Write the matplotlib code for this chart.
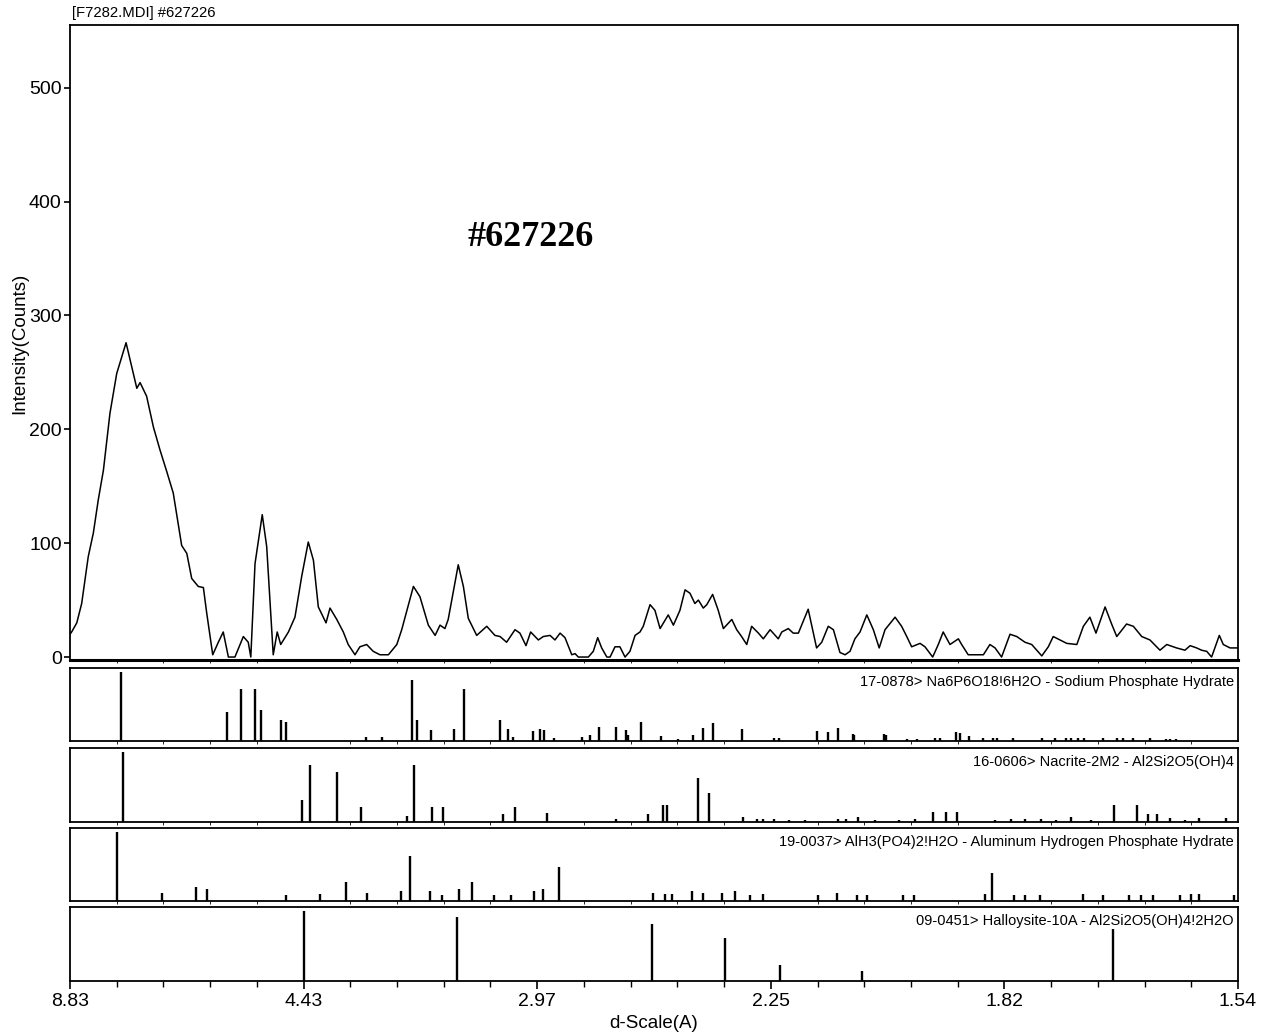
import matplotlib
matplotlib.use('Agg')
import matplotlib.pyplot as plt
from matplotlib.ticker import MultipleLocator

plt.rcParams['font.family'] = ['Liberation Sans', 'DejaVu Sans']

# gemessenes Diffraktogramm (2-Theta in Grad, Cu K-alpha) und Intensitaet
two_theta = [10.00, 10.07, 10.29, 10.50, 10.78, 11.00, 11.21, 11.43, 11.71, 12.00,
             12.40, 12.64, 12.86, 13.00, 13.28, 13.57, 13.85, 14.14, 14.42, 14.78,
             15.00, 15.21, 15.49, 15.71, 15.85, 16.11, 16.35, 16.56, 16.78, 17.06,
             17.42, 17.63, 17.74, 17.92, 18.23, 18.42, 18.70, 18.87, 19.02, 19.35,
             19.63, 19.92, 20.20, 20.42, 20.63, 20.96, 21.13, 21.42, 21.70, 21.91,
             22.20, 22.41, 22.70, 22.98, 23.27, 23.63, 23.99, 24.20, 24.70, 24.98,
             25.34, 25.63, 25.84, 26.05, 26.19, 26.62, 26.84, 27.05, 27.41, 27.84,
             28.19, 28.41, 28.69, 29.05, 29.26, 29.52, 29.72, 30.05, 30.26, 30.55,
             30.76, 30.98, 31.19, 31.48, 31.62, 31.76, 32.19, 32.40, 32.59, 32.76,
             32.98, 33.12, 33.33, 33.54, 33.76, 33.97, 34.19, 34.40, 34.54, 34.83,
             35.04, 35.26, 35.61, 35.83, 36.11, 36.33, 36.54, 36.75, 36.90, 37.11,
             37.26, 37.51, 37.75, 37.97, 38.33, 38.54, 38.75, 38.97, 39.18, 39.47,
             39.68, 39.97, 40.32, 40.47, 40.75, 40.96, 41.18, 41.60, 41.96, 42.18,
             42.46, 42.68, 42.96, 43.18, 43.39, 43.60, 43.82, 44.11, 44.39, 44.64,
             44.89, 45.32, 45.60, 45.82, 46.03, 46.39, 46.60, 46.93, 47.17, 47.38,
             47.67, 48.03, 48.17, 48.45, 48.81, 49.10, 49.38, 49.60, 49.88, 50.24,
             50.53, 50.88, 51.17, 51.60, 51.88, 52.09, 52.38, 52.67, 53.10, 53.38,
             53.66, 53.92, 54.31, 54.59, 54.81, 55.23, 55.52, 55.88, 56.23, 56.66,
             56.95, 57.37, 57.73, 57.95, 58.23, 58.44, 58.66, 58.87, 59.20, 59.37,
             59.66, 59.94, 60.00]
counts = [20, 22, 30, 47, 88, 109, 138, 164, 214, 249,
          276, 255, 236, 241, 229, 202, 182, 163, 144, 98,
          91, 69, 62, 61, 39, 2, 13, 22, 0, 0,
          18, 13, 0, 82, 125, 97, 2, 22, 11, 22,
          35, 71, 101, 85, 44, 30, 43, 33, 22, 11,
          2, 9, 11, 5, 2, 2, 11, 24, 62, 53,
          28, 19, 28, 25, 33, 81, 62, 34, 19, 27,
          19, 18, 13, 24, 21, 10, 22, 15, 18, 19,
          15, 21, 17, 2, 3, 0, 0, 5, 17, 8,
          0, 0, 9, 9, 0, 5, 19, 22, 27, 46,
          41, 25, 37, 28, 41, 59, 56, 47, 50, 43,
          46, 55, 41, 25, 33, 24, 18, 11, 27, 21,
          16, 24, 16, 22, 25, 21, 21, 42, 8, 13,
          27, 24, 4, 2, 5, 16, 22, 37, 24, 8,
          24, 35, 27, 18, 9, 12, 9, 0, 11, 22,
          11, 16, 11, 2, 2, 2, 11, 8, 0, 20,
          18, 13, 11, 1, 9, 18, 15, 12, 11, 27,
          35, 21, 44, 29, 18, 29, 27, 18, 15, 6,
          11, 8, 6, 10, 8, 6, 5, 0, 19, 11,
          8, 8, 8]

# Referenzkarten (Linienlagen in 2-Theta, relative Intensitaet)
na_pos = [12.19, 16.70, 17.32, 17.91, 18.19, 19.02, 19.25, 22.68, 23.35, 24.62,
          24.87, 25.44, 26.45, 26.85, 28.40, 28.73, 28.95, 29.82, 30.10, 30.29,
          30.74, 31.90, 32.24, 32.65, 33.38, 33.81, 33.89, 34.44, 35.30, 36.03,
          36.67, 37.08, 37.53, 38.78, 40.13, 40.33, 41.97, 42.43, 42.87, 43.50,
          43.58, 44.83, 44.95, 45.83, 46.27, 47.05, 47.25, 47.92, 48.08, 48.47,
          49.08, 49.50, 49.70, 50.37, 51.63, 52.17, 52.63, 52.87, 53.17, 53.42,
          54.22, 54.83, 55.08, 55.50, 56.22, 56.92, 57.08, 57.33]
na_int = [100, 42, 76, 76, 45, 31, 27, 6, 6, 89,
          31, 16, 18, 76, 31, 18, 6, 14, 18, 16,
          4, 6, 8, 20, 21, 16, 9, 27, 7, 3,
          8, 19, 26, 17, 4, 4, 15, 13, 19, 10,
          8, 10, 8, 3, 3, 4, 4, 13, 12, 7,
          4, 4, 4, 5, 4, 4, 4, 4, 5, 5,
          4, 4, 4, 4, 4, 3, 3, 3]

nac_pos = [12.29, 19.92, 20.26, 21.41, 22.47, 24.43, 24.74, 25.51, 25.98, 28.53,
           29.07, 30.41, 33.38, 34.75, 35.40, 35.57, 36.90, 37.35, 38.79, 39.40,
           39.65, 40.12, 40.77, 41.47, 42.86, 43.24, 43.74, 44.46, 45.49, 46.16,
           46.96, 47.49, 47.99, 49.58, 50.28, 50.88, 51.58, 52.21, 52.83, 53.70,
           54.70, 55.68, 56.16, 56.55, 57.08, 57.75, 58.33, 59.50]
nac_int = [100, 32, 81, 71, 22, 9, 81, 22, 22, 11,
           22, 13, 5, 12, 24, 24, 63, 42, 7, 5,
           5, 5, 3, 3, 5, 5, 7, 3, 3, 5,
           14, 14, 14, 3, 5, 5, 5, 3, 7, 3,
           24, 24, 11, 11, 6, 3, 6, 6]

al_pos = [12.03, 13.95, 15.39, 15.88, 19.25, 20.69, 21.80, 22.71, 24.15, 24.54,
          25.39, 25.93, 26.65, 27.19, 28.14, 28.87, 29.87, 30.26, 30.93, 34.95,
          35.47, 35.75, 36.63, 37.08, 37.92, 38.45, 39.13, 39.67, 42.00, 42.83,
          43.67, 44.13, 45.67, 46.13, 49.17, 49.47, 50.42, 50.87, 51.53, 53.37,
          54.20, 55.33, 55.83, 56.37, 57.50, 57.97, 58.33, 59.83]
al_int = [100, 12, 21, 18, 8, 10, 27, 12, 14, 66,
          14, 8, 17, 27, 8, 8, 14, 18, 50, 11,
          10, 10, 14, 12, 12, 14, 8, 10, 8, 12,
          8, 8, 8, 8, 10, 41, 8, 8, 8, 10,
          8, 8, 8, 8, 8, 10, 10, 8]

hal_pos = [20.00, 26.55, 34.92, 38.05, 40.38, 43.92, 54.67]
hal_int = [100, 91, 81, 61, 23, 14, 75]

karten = [
    ('17-0878> Na6P6O18!6H2O - Sodium Phosphate Hydrate', na_pos, na_int),
    ('16-0606> Nacrite-2M2 - Al2Si2O5(OH)4', nac_pos, nac_int),
    ('19-0037> AlH3(PO4)2!H2O - Aluminum Hydrogen Phosphate Hydrate', al_pos, al_int),
    ('09-0451> Halloysite-10A - Al2Si2O5(OH)4!2H2O', hal_pos, hal_int),
]

d_labels = ['8.83', '4.43', '2.97', '2.25', '1.82', '1.54']
y_ticks = [0, 100, 200, 300, 400, 500]

fig = plt.figure(figsize=(12.7, 10.36), dpi=100)
W, H = 1270.0, 1036.0
links, breite = 70 / W, 1168 / W

# Hauptdiagramm
ax = fig.add_axes([links, (H - 660) / H, breite, 635 / H])
ax.plot(two_theta, counts, color='black', linewidth=1.1)
ax.set_xlim(10, 60)
ax.set_ylim(-2.6, 555)
ax.set_yticks(y_ticks)
ax.set_yticklabels([str(v) for v in y_ticks], fontsize=14)
ax.tick_params(axis='y', direction='out', length=4, width=1.2, pad=2)
ax.tick_params(axis='x', bottom=False, labelbottom=False)
ax.set_ylabel('Intensity(Counts)', fontsize=13.5)
ax.yaxis.set_label_coords(-0.036, 0.498)
for s in ax.spines.values():
    s.set_linewidth(1.3)
ax.spines['bottom'].set_linewidth(2.2)
ax.text(0.394, 0.666, '#627226', transform=ax.transAxes, ha='center', va='center',
        fontsize=26, fontweight='bold', family=['Liberation Serif', 'DejaVu Serif'])
fig.text(72 / W, 1 - 13 / H, '[F7282.MDI] #627226', fontsize=10.7, ha='left', va='center')

# Referenzstreifen
streifen = [(668, 741), (748, 822), (828, 901), (907, 981)]
for i, ((oben, unten), (name, pos, inten)) in enumerate(zip(streifen, karten)):
    sub = fig.add_axes([links, (H - unten) / H, breite, (unten - oben) / H], sharex=ax)
    sub.vlines(pos, 0, inten, colors='black', linewidth=1.7)
    sub.set_ylim(0, 106)
    sub.set_yticks([])
    for s in sub.spines.values():
        s.set_linewidth(1.3)
    sub.text(0.9965, 0.91, name, transform=sub.transAxes, ha='right', va='top', fontsize=10.5)
    if i < 3:
        sub.tick_params(axis='x', bottom=False, labelbottom=False)
    else:
        sub.set_xticks([10, 20, 30, 40, 50, 60])
        sub.set_xticklabels(d_labels, fontsize=14)
        sub.xaxis.set_minor_locator(MultipleLocator(2))
        sub.tick_params(axis='x', which='major', direction='out', length=6, width=1.2, pad=3)
        sub.tick_params(axis='x', which='minor', direction='out', length=4, width=1.0)
        sub.set_xlabel('d-Scale(A)', fontsize=13.5, labelpad=3)

ax.set_xlim(10, 60)
fig.savefig('out.png', dpi=100)
